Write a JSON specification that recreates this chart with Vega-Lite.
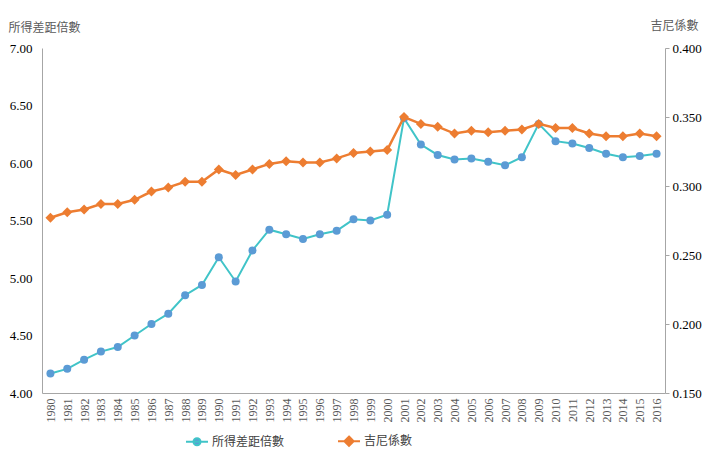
{
  "$schema": "https://vega.github.io/schema/vega-lite/v6.json",
  "width": 623,
  "height": 345,
  "autosize": "none",
  "padding": {"left": 42, "top": 48, "right": 60, "bottom": 72},
  "background": "white",
  "config": {
    "view": {"stroke": null},
    "axis": {"grid": false, "domainColor": "#A6A6A6", "tickColor": "#A6A6A6", "domainWidth": 1}
  },
  "data": {
    "values": [
      {"year": 1980, "ratio": 4.17, "gini": 0.277},
      {"year": 1981, "ratio": 4.21, "gini": 0.281},
      {"year": 1982, "ratio": 4.29, "gini": 0.283},
      {"year": 1983, "ratio": 4.36, "gini": 0.287},
      {"year": 1984, "ratio": 4.40, "gini": 0.287},
      {"year": 1985, "ratio": 4.50, "gini": 0.290},
      {"year": 1986, "ratio": 4.60, "gini": 0.296},
      {"year": 1987, "ratio": 4.69, "gini": 0.299},
      {"year": 1988, "ratio": 4.85, "gini": 0.303},
      {"year": 1989, "ratio": 4.94, "gini": 0.303},
      {"year": 1990, "ratio": 5.18, "gini": 0.312},
      {"year": 1991, "ratio": 4.97, "gini": 0.308},
      {"year": 1992, "ratio": 5.24, "gini": 0.312},
      {"year": 1993, "ratio": 5.42, "gini": 0.316},
      {"year": 1994, "ratio": 5.38, "gini": 0.318},
      {"year": 1995, "ratio": 5.34, "gini": 0.317},
      {"year": 1996, "ratio": 5.38, "gini": 0.317},
      {"year": 1997, "ratio": 5.41, "gini": 0.320},
      {"year": 1998, "ratio": 5.51, "gini": 0.324},
      {"year": 1999, "ratio": 5.50, "gini": 0.325},
      {"year": 2000, "ratio": 5.55, "gini": 0.326},
      {"year": 2001, "ratio": 6.39, "gini": 0.350},
      {"year": 2002, "ratio": 6.16, "gini": 0.345},
      {"year": 2003, "ratio": 6.07, "gini": 0.343},
      {"year": 2004, "ratio": 6.03, "gini": 0.338},
      {"year": 2005, "ratio": 6.04, "gini": 0.340},
      {"year": 2006, "ratio": 6.01, "gini": 0.339},
      {"year": 2007, "ratio": 5.98, "gini": 0.340},
      {"year": 2008, "ratio": 6.05, "gini": 0.341},
      {"year": 2009, "ratio": 6.34, "gini": 0.345},
      {"year": 2010, "ratio": 6.19, "gini": 0.342},
      {"year": 2011, "ratio": 6.17, "gini": 0.342},
      {"year": 2012, "ratio": 6.13, "gini": 0.338},
      {"year": 2013, "ratio": 6.08, "gini": 0.336},
      {"year": 2014, "ratio": 6.05, "gini": 0.336},
      {"year": 2015, "ratio": 6.06, "gini": 0.338},
      {"year": 2016, "ratio": 6.08, "gini": 0.336}
    ]
  },
  "encoding": {
    "x": {
      "field": "year",
      "type": "ordinal",
      "scale": {"type": "point", "padding": 0.5},
      "axis": {
        "title": null,
        "labelAngle": -90,
        "ticks": false,
        "labelFont": "'Liberation Serif', 'DejaVu Serif', serif",
        "labelFontSize": 12,
        "labelColor": "#595959",
        "labelPadding": 5
      }
    }
  },
  "layer": [
    {
      "encoding": {
        "y": {
          "field": "ratio",
          "type": "quantitative",
          "scale": {"domain": [4, 7], "nice": false, "zero": false},
          "axis": {
            "orient": "left",
            "values": [4, 4.5, 5, 5.5, 6, 6.5, 7],
            "format": ".2f",
            "ticks": false,
            "labelPadding": 10,
            "labelFont": "'Liberation Serif', 'DejaVu Serif', serif",
            "labelFontSize": 13,
            "labelColor": "#000000",
            "title": "所得差距倍數",
            "titleAngle": 0,
            "titleX": -34,
            "titleY": -21,
            "titleAlign": "left",
            "titleBaseline": "middle",
            "titleFont": "Noto Sans CJK TC",
            "titleFontSize": 12,
            "titleFontWeight": "normal",
            "titleColor": "#595959"
          }
        }
      },
      "layer": [
        {
          "mark": {"type": "line", "strokeWidth": 2},
          "encoding": {
            "color": {
              "datum": "所得差距倍數",
              "scale": {"domain": ["所得差距倍數", "吉尼係數"], "range": ["#40C4C8", "#ED7D31"]},
              "legend": {
                "orient": "none",
                "legendX": 143,
                "legendY": 381,
                "direction": "horizontal",
                "title": null,
                "symbolType": "M-1,0L1,0M-0.32,0A0.32,0.32,0,1,1,0.32,0A0.32,0.32,0,1,1,-0.32,0Z",
                "symbolSize": 484,
                "symbolStrokeWidth": 2,
                "labelFont": "Noto Sans CJK TC",
                "labelFontSize": 12,
                "labelColor": "#404040",
                "labelOffset": 3,
                "columnPadding": 49,
                "encode": {
                  "symbols": {
                    "update": {
                      "fill": {"signal": "datum.value === '所得差距倍數' ? '#5B9BD5' : '#ED7D31'"},
                      "fillOpacity": {"value": 1},
                      "shape": {"signal": "datum.value === '所得差距倍數' ? 'M-1,0L1,0M-0.32,0A0.32,0.32,0,1,1,0.32,0A0.32,0.32,0,1,1,-0.32,0Z' : 'M-1,0L1,0M0,-0.42L0.42,0L0,0.42L-0.42,0Z'"}
                    }
                  }
                }
              }
            }
          }
        },
        {
          "mark": {"type": "point", "filled": true, "shape": "circle", "size": 64, "color": "#5B9BD5", "opacity": 1}
        }
      ]
    },
    {
      "encoding": {
        "y": {
          "field": "gini",
          "type": "quantitative",
          "scale": {"domain": [0.15, 0.4], "nice": false, "zero": false},
          "axis": {
            "orient": "right",
            "values": [0.15, 0.2, 0.25, 0.3, 0.35, 0.4],
            "format": ".3f",
            "tickSize": 4,
            "labelPadding": 3,
            "labelFont": "'Liberation Serif', 'DejaVu Serif', serif",
            "labelFontSize": 13,
            "labelColor": "#000000",
            "title": "吉尼係數",
            "titleAngle": 0,
            "titleX": -15,
            "titleY": -23,
            "titleAlign": "left",
            "titleBaseline": "middle",
            "titleFont": "Noto Sans CJK TC",
            "titleFontSize": 12,
            "titleFontWeight": "normal",
            "titleColor": "#595959"
          }
        }
      },
      "layer": [
        {
          "mark": {"type": "line", "strokeWidth": 2.5},
          "encoding": {"color": {"datum": "吉尼係數"}}
        },
        {
          "mark": {"type": "point", "filled": true, "shape": "diamond", "size": 100, "color": "#ED7D31", "opacity": 1}
        }
      ]
    }
  ],
  "resolve": {"scale": {"y": "independent"}}
}
